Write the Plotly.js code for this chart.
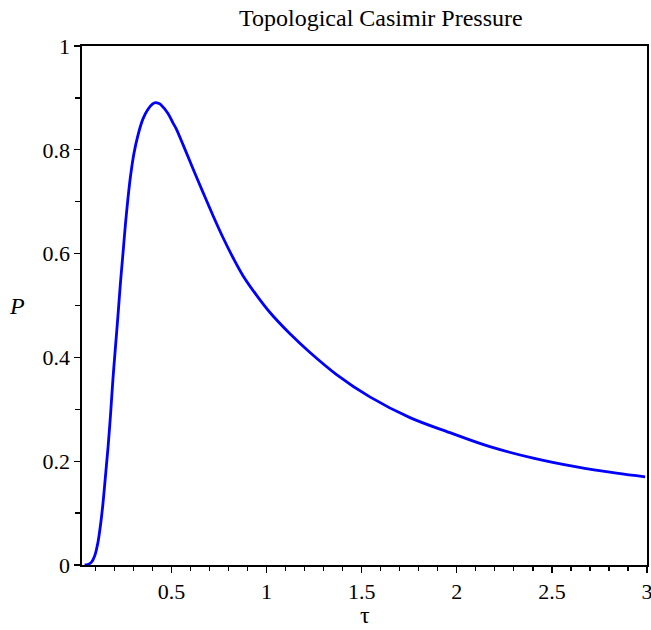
<!DOCTYPE html>
<html>
<head>
<meta charset="utf-8">
<script src="https://cdn.plot.ly/plotly-3.0.1.min.js"></script>
<style>html,body{margin:0;padding:0;background:#fff;}#chart{width:651px;height:630px;}</style>
</head>
<body>
<div id="chart"></div>
<script>
const tau = [0.044, 0.06, 0.079, 0.097, 0.114, 0.128, 0.14, 0.153, 0.167, 0.181, 0.193, 0.207, 0.219, 0.232, 0.246, 0.258, 0.272, 0.286, 0.303, 0.324, 0.351, 0.377, 0.40, 0.417, 0.435, 0.447, 0.482, 0.508, 0.526, 0.561, 0.614, 0.666, 0.719, 0.771, 0.824, 0.877, 0.947, 1.017, 1.122, 1.227, 1.368, 1.543, 1.754, 1.964, 2.174, 2.402, 2.630, 2.840, 2.99];
const pressure = [0.000, 0.001, 0.005, 0.018, 0.044, 0.079, 0.118, 0.170, 0.227, 0.295, 0.360, 0.425, 0.480, 0.543, 0.603, 0.655, 0.708, 0.752, 0.793, 0.828, 0.860, 0.878, 0.888, 0.891, 0.889, 0.886, 0.870, 0.852, 0.840, 0.810, 0.763, 0.718, 0.673, 0.631, 0.592, 0.557, 0.520, 0.487, 0.446, 0.410, 0.367, 0.324, 0.284, 0.255, 0.228, 0.206, 0.189, 0.177, 0.170];
const xTicks = [0.5, 1, 1.5, 2, 2.5, 3];
const xTickText = ['0.5', '1', '1.5', '2', '2.5', '3'];
const yTicks = [0, 0.2, 0.4, 0.6, 0.8, 1];
const yTickText = ['0', '0.2', '0.4', '0.6', '0.8', '1'];

const serif = 'Liberation Serif, Times New Roman, serif';

const trace = {
  x: tau, y: pressure, type: 'scatter', mode: 'lines',
  line: {color: '#0000ff', width: 2.8, shape: 'spline', smoothing: 1},
  hoverinfo: 'skip'
};

const layout = {
  width: 651, height: 630,
  margin: {l: 82, r: 4, t: 46, b: 65},
  paper_bgcolor: '#fff', plot_bgcolor: '#fff',
  showlegend: false,
  title: {text: 'Topological Casimir Pressure', font: {family: serif, size: 24, color: '#000'},
          x: 0.585, xanchor: 'center', y: 0.972, yanchor: 'middle'},
  xaxis: {
    range: [0.03, 3], tickmode: 'array', tickvals: xTicks, ticktext: xTickText,
    ticks: 'outside', ticklen: 6, tickwidth: 1.3, tickcolor: '#000',
    minor: {dtick: 0.1, tick0: 0, ticks: 'outside', ticklen: 4, tickwidth: 1.3, tickcolor: '#000', showgrid: false},
    showline: true, linecolor: '#000', linewidth: 1.6, mirror: true,
    showgrid: false, zeroline: false, ticklabeloverflow: 'allow',
    tickfont: {family: serif, size: 22, color: '#000'}
  },
  yaxis: {
    range: [0, 1], tickmode: 'array', tickvals: yTicks, ticktext: yTickText,
    ticks: 'outside', ticklen: 6, tickwidth: 1.3, tickcolor: '#000',
    minor: {dtick: 0.1, tick0: 0, ticks: 'outside', ticklen: 5, tickwidth: 1.3, tickcolor: '#000', showgrid: false},
    showline: true, linecolor: '#000', linewidth: 1.6, mirror: true,
    showgrid: false, zeroline: false, ticklabeloverflow: 'allow',
    tickfont: {family: serif, size: 22, color: '#000'}
  },
  annotations: [
    {text: '<i>P</i>', xref: 'paper', yref: 'paper', x: -0.115, y: 0.5, xanchor: 'center', yanchor: 'middle',
     showarrow: false, font: {family: serif, size: 24, color: '#000'}},
    {text: 'τ', xref: 'paper', yref: 'paper', x: 0.5, y: -0.097, xanchor: 'center', yanchor: 'middle',
     showarrow: false, font: {family: serif, size: 24, color: '#000'}}
  ]
};

Plotly.newPlot('chart', [trace], layout, {displayModeBar: false, staticPlot: true});
</script>
</body>
</html>
